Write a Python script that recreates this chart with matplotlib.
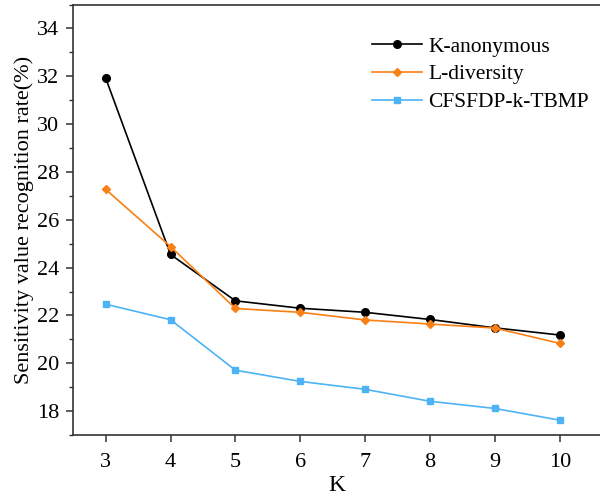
import matplotlib
matplotlib.use("Agg")
import matplotlib.pyplot as plt
from matplotlib.ticker import MultipleLocator

plt.rcParams['font.family'] = ['Liberation Serif', 'DejaVu Serif']

k_values = [3, 4, 5, 6, 7, 8, 9, 10]
k_anonymous = [31.93, 24.55, 22.61, 22.30, 22.13, 21.83, 21.48, 21.18]
l_diversity = [27.27, 24.88, 22.29, 22.13, 21.81, 21.64, 21.47, 20.83]
cfsfdp_k_tbmp = [22.47, 21.82, 19.71, 19.24, 18.91, 18.41, 18.11, 17.62]

series_names = ["K-anonymous", "L-diversity", "CFSFDP-k-TBMP"]

fig = plt.figure(figsize=(6, 5), dpi=100)
ax = fig.add_axes([0.122, 0.13, 0.878, 0.861])

ax.plot(k_values, k_anonymous, color="#000000", lw=1.2, marker="o",
        markersize=5.5, label=series_names[0])
ax.plot(k_values, l_diversity, color="#FA7F14", lw=1.2, marker="D",
        markersize=4.5, label=series_names[1])
ax.plot(k_values, cfsfdp_k_tbmp, color="#4DB3F5", lw=1.2, marker="s",
        markersize=4.5, label=series_names[2])

ax.set_xlim(2.5, 10.62)
ax.set_ylim(17, 35)
ax.set_xticks(k_values)
ax.yaxis.set_major_locator(MultipleLocator(2))
ax.yaxis.set_minor_locator(MultipleLocator(1))
ax.set_yticks(range(18, 35, 2))

ax.spines['right'].set_visible(False)
for side in ('left', 'bottom', 'top'):
    ax.spines[side].set_color('#333333')
    ax.spines[side].set_linewidth(1.2)

ax.tick_params(axis='both', which='major', direction='out', length=5,
               width=1.1, color='#333333', labelsize=16, pad=5)
ax.tick_params(axis='x', which='major', pad=8)
ax.tick_params(axis='y', which='minor', direction='out', length=3,
               width=1.0, color='#333333')
ax.tick_params(top=False, right=False)

ax.set_xlabel("K", fontsize=17, labelpad=2)
ax.set_ylabel("Sensitivity value recognition rate(%)", fontsize=16, labelpad=2)

ax.legend(loc='upper left', bbox_to_anchor=(0.543, 0.955), frameon=False,
          fontsize=15.5, handlelength=2.3, handletextpad=0.3,
          labelspacing=0.35, borderaxespad=0.2)

fig.savefig("out.png", dpi=100)
